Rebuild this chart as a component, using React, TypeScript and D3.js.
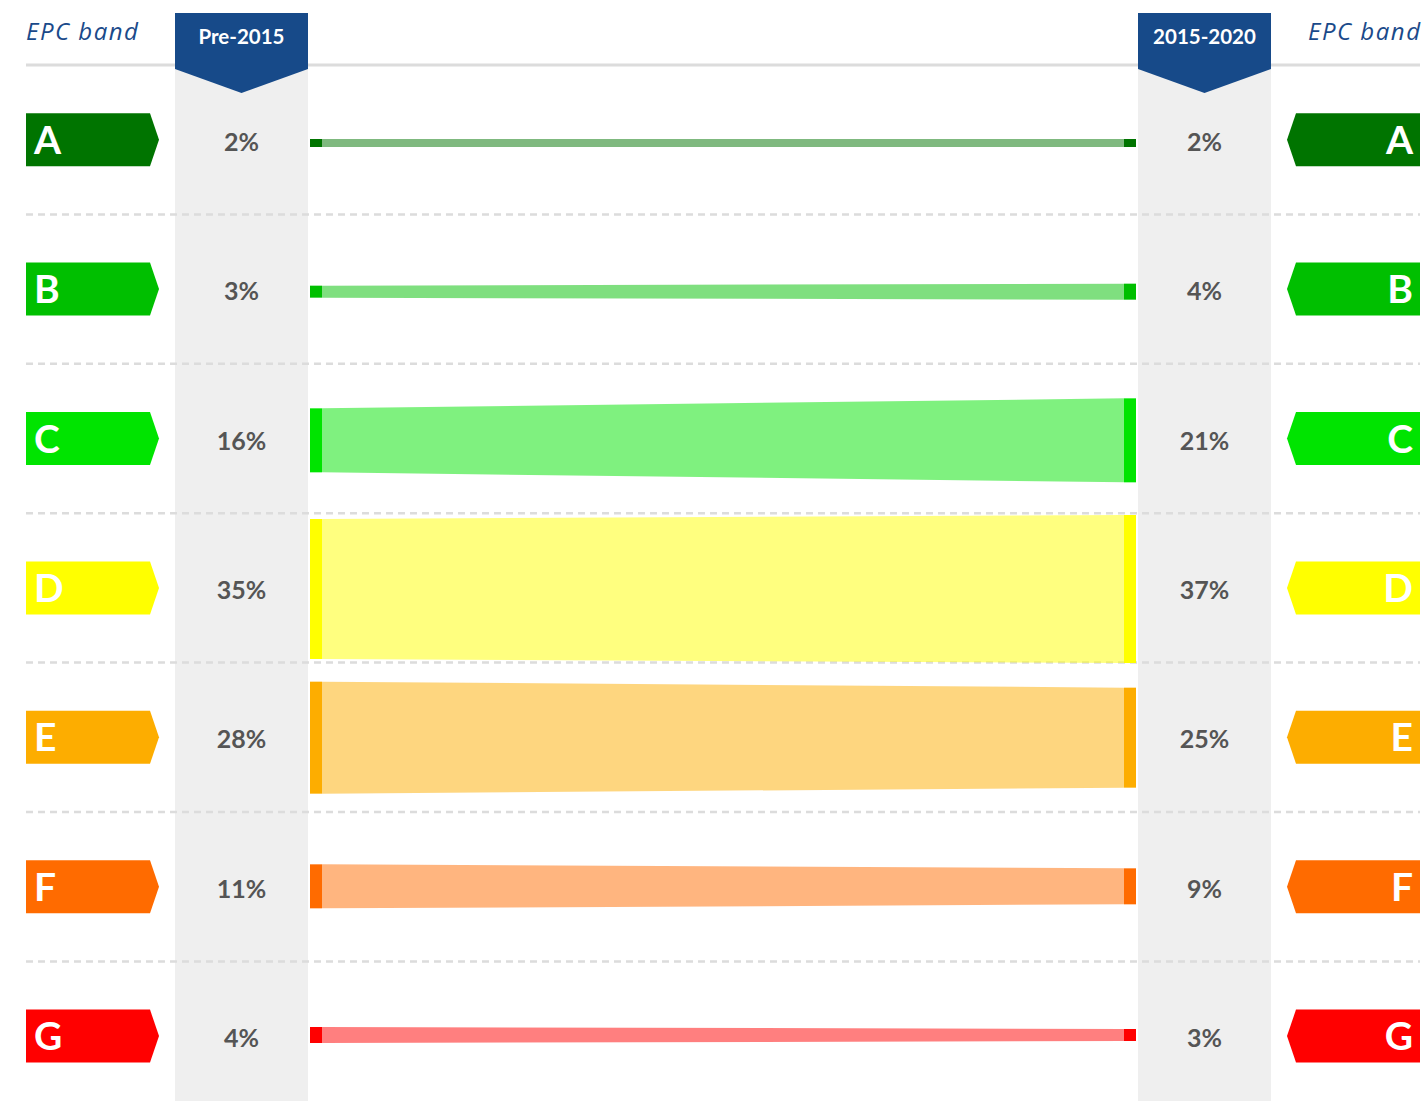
import React, { useEffect, useRef } from "react";
import * as d3 from "d3";

const bands = ["A", "B", "C", "D", "E", "F", "G"];
const pre2015 = [2, 3, 16, 35, 28, 11, 4];
const post2015 = [2, 4, 21, 37, 25, 9, 3];
const bandColors = ["#007400", "#00bf00", "#00e400", "#ffff00", "#fdad00", "#ff6b00", "#ff0000"];
const periods = ["Pre-2015", "2015-2020"];

const W = 1422;
const H = 1101;

export default function App() {
  const ref = useRef<SVGSVGElement>(null);

  useEffect(() => {
    const svg = d3.select(ref.current);
    svg.selectAll("*").remove();

    const font = "Lato, 'Open Sans', sans-serif";
    const left = 26, right = 1420;
    const colL = [175, 308], colR = [1138, 1271];
    const top = 65;
    const rowH = 149.4;

    // band rows
    const y = d3.scaleBand().domain(bands).range([top, top + rowH * bands.length]);
    // flow centres sit on a slightly tighter pitch
    const yFlow = d3.scalePoint().domain(bands).range([143, 1035]);
    // percent -> pixel thickness
    const thick = d3.scaleLinear().domain([0, 100]).range([0, 400]);
    const x = d3.scaleLinear().domain([0, 1]).range([322, 1124]);
    const cy = (b: string) => (y(b) as number) + y.bandwidth() / 2;

    // grey columns
    [colL, colR].forEach(c => {
      svg.append("rect").attr("x", c[0]).attr("y", 13).attr("width", c[1] - c[0]).attr("height", H - 13).attr("fill", "#efefef");
    });

    // solid top line
    svg.append("line").attr("x1", left).attr("x2", right).attr("y1", top).attr("y2", top)
      .attr("stroke", "#dcdcdc").attr("stroke-width", 3);

    // dashed separators
    svg.selectAll(".sep").data(bands.slice(1)).join("line").attr("class", "sep")
      .attr("x1", left).attr("x2", right)
      .attr("y1", d => y(d) as number).attr("y2", d => y(d) as number)
      .attr("stroke", "#dcdcdc").attr("stroke-width", 2.5).attr("stroke-dasharray", "7,5");

    // headers
    [colL, colR].forEach((c, i) => {
      const mid = (c[0] + c[1]) / 2;
      svg.append("path")
        .attr("d", `M${c[0]},13 H${c[1]} V69 L${mid},93 L${c[0]},69 Z`)
        .attr("fill", "#174a89");
      svg.append("text").attr("x", mid).attr("y", 44).attr("text-anchor", "middle")
        .attr("fill", "#fff").attr("font-family", font).attr("font-weight", 700).attr("font-size", 20.5)
        .text(periods[i]);
    });

    // EPC band titles
    const titleFont = "'Open Sans', sans-serif";
    svg.append("text").attr("x", left).attr("y", 40).attr("fill", "#1a4a8a")
      .attr("font-family", titleFont).attr("font-style", "italic").attr("font-size", 24)
      .attr("letter-spacing", 1.5).text("EPC band");
    svg.append("text").attr("x", right + 1.5).attr("y", 40).attr("text-anchor", "end").attr("fill", "#1a4a8a")
      .attr("font-family", titleFont).attr("font-style", "italic").attr("font-size", 24)
      .attr("letter-spacing", 1.5).text("EPC band");

    // tags
    const tagH = 53;
    bands.forEach((b, i) => {
      const c = cy(b);
      svg.append("path")
        .attr("d", `M${left},${c - tagH / 2} H150 L159,${c} L150,${c + tagH / 2} H${left} Z`)
        .attr("fill", bandColors[i]);
      svg.append("path")
        .attr("d", `M${right},${c - tagH / 2} H1296 L1287,${c} L1296,${c + tagH / 2} H${right} Z`)
        .attr("fill", bandColors[i]);
      svg.append("text").attr("x", 34).attr("y", c + 14).attr("fill", "#fff")
        .attr("font-family", font).attr("font-weight", 700).attr("font-size", 39).text(b);
      svg.append("text").attr("x", 1413).attr("y", c + 14).attr("text-anchor", "end").attr("fill", "#fff")
        .attr("font-family", font).attr("font-weight", 700).attr("font-size", 39).text(b);

      // percentages
      svg.append("text").attr("x", (colL[0] + colL[1]) / 2).attr("y", c + 11).attr("text-anchor", "middle")
        .attr("fill", "#555").attr("font-family", font).attr("font-weight", 700).attr("font-size", 25)
        .text(pre2015[i] + "%");
      svg.append("text").attr("x", (colR[0] + colR[1]) / 2).attr("y", c + 11).attr("text-anchor", "middle")
        .attr("fill", "#555").attr("font-family", font).attr("font-weight", 700).attr("font-size", 25)
        .text(post2015[i] + "%");

      // flow
      const fc = yFlow(b) as number;
      const h0 = thick(pre2015[i]), h1 = thick(post2015[i]);
      const area = d3.area<[number, number]>()
        .x(d => x(d[0]))
        .y0(d => fc + d[1] / 2)
        .y1(d => fc - d[1] / 2);
      svg.append("path").attr("d", area([[0, h0], [1, h1]]))
        .attr("fill", bandColors[i]).attr("fill-opacity", 0.5);
      svg.append("rect").attr("x", 310).attr("width", 12).attr("y", fc - h0 / 2).attr("height", h0).attr("fill", bandColors[i]);
      svg.append("rect").attr("x", 1124).attr("width", 12).attr("y", fc - h1 / 2).attr("height", h1).attr("fill", bandColors[i]);
    });
  }, []);

  return (
    <svg ref={ref} width={W} height={H} style={{ position: "absolute", left: 0, top: 0, background: "#fff" }} />
  );
}
